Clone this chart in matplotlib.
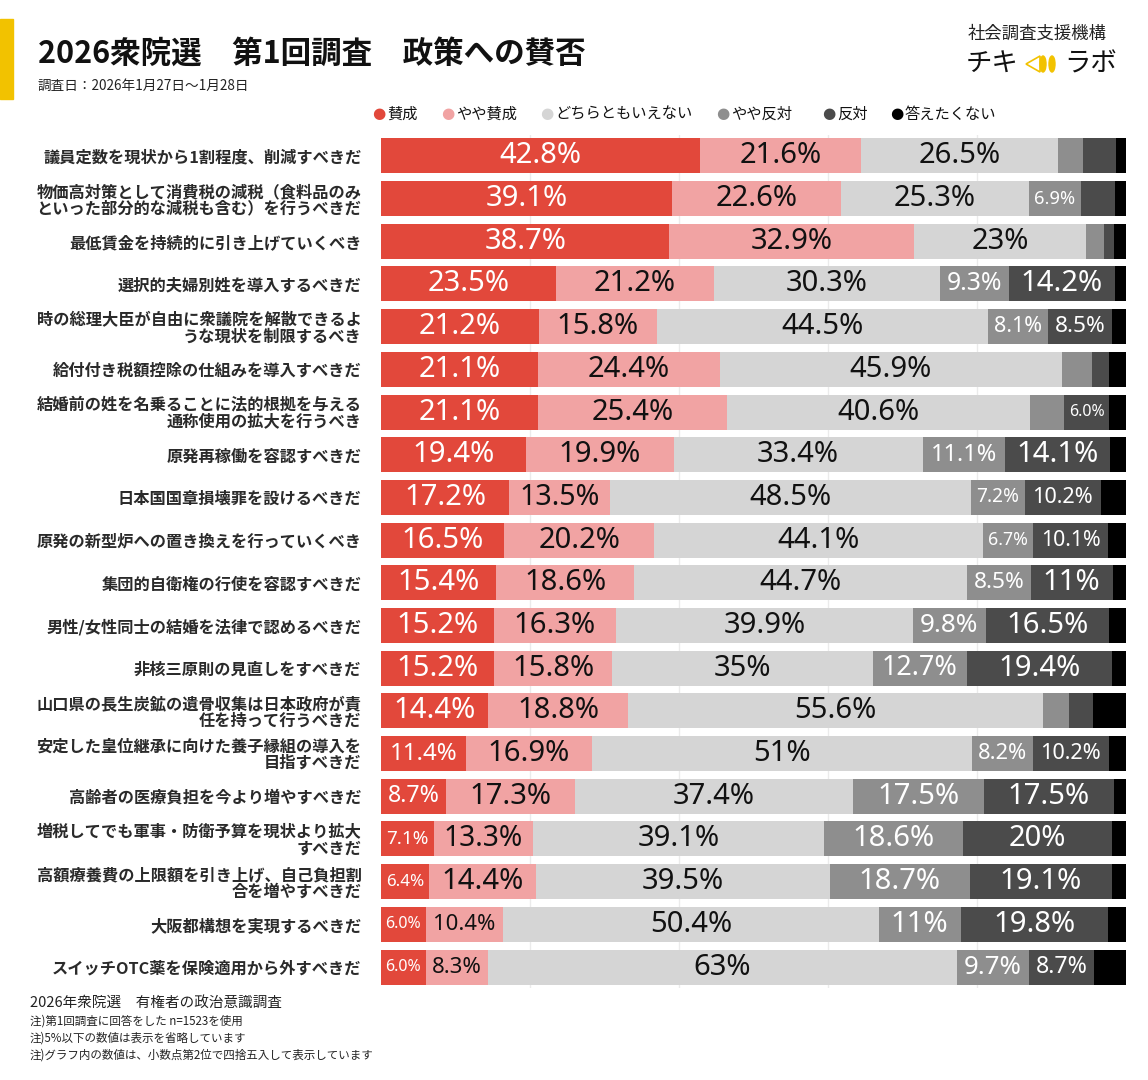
import matplotlib.pyplot as plt
from matplotlib.patches import Rectangle, Ellipse, Polygon

plt.rcParams['font.family'] = ['Noto Sans CJK JP', 'DejaVu Sans']

# 政策項目 (上から順)
categories = [
    '議員定数を現状から1割程度、削減すべきだ',
    '物価高対策として消費税の減税（食料品のみ\nといった部分的な減税も含む）を行うべきだ',
    '最低賃金を持続的に引き上げていくべき',
    '選択的夫婦別姓を導入するべきだ',
    '時の総理大臣が自由に衆議院を解散できるよ\nうな現状を制限するべき',
    '給付付き税額控除の仕組みを導入すべきだ',
    '結婚前の姓を名乗ることに法的根拠を与える\n通称使用の拡大を行うべき',
    '原発再稼働を容認すべきだ',
    '日本国国章損壊罪を設けるべきだ',
    '原発の新型炉への置き換えを行っていくべき',
    '集団的自衛権の行使を容認すべきだ',
    '男性/女性同士の結婚を法律で認めるべきだ',
    '非核三原則の見直しをすべきだ',
    '山口県の長生炭鉱の遺骨収集は日本政府が責\n任を持って行うべきだ',
    '安定した皇位継承に向けた養子縁組の導入を\n目指すべきだ',
    '高齢者の医療負担を今より増やすべきだ',
    '増税してでも軍事・防衛予算を現状より拡大\nすべきだ',
    '高額療養費の上限額を引き上げ、自己負担割\n合を増やすべきだ',
    '大阪都構想を実現するべきだ',
    'スイッチOTC薬を保険適用から外すべきだ',
]
answers = ['賛成', 'やや賛成', 'どちらともいえない', 'やや反対', '反対', '答えたくない']

agree = [42.8, 39.1, 38.7, 23.5, 21.2, 21.1, 21.1, 19.4, 17.2, 16.5,
         15.4, 15.2, 15.2, 14.4, 11.4, 8.7, 7.1, 6.4, 6.0, 6.0]
some_agree = [21.6, 22.6, 32.9, 21.2, 15.8, 24.4, 25.4, 19.9, 13.5, 20.2,
              18.6, 16.3, 15.8, 18.8, 16.9, 17.3, 13.3, 14.4, 10.4, 8.3]
neutral = [26.5, 25.3, 23.0, 30.3, 44.5, 45.9, 40.6, 33.4, 48.5, 44.1,
           44.7, 39.9, 35.0, 55.6, 51.0, 37.4, 39.1, 39.5, 50.4, 63.0]
some_disagree = [3.4, 6.9, 2.4, 9.3, 8.1, 4.0, 4.6, 11.1, 7.2, 6.7,
                 8.5, 9.8, 12.7, 3.5, 8.2, 17.5, 18.6, 18.7, 11.0, 9.7]
disagree = [4.4, 4.6, 1.4, 14.2, 8.5, 2.3, 6.0, 14.1, 10.2, 10.1,
            11.0, 16.5, 19.4, 3.3, 10.2, 17.5, 20.0, 19.1, 19.8, 8.7]
no_answer = [1.3, 1.5, 1.6, 1.5, 1.9, 2.3, 2.3, 2.1, 3.4, 2.4,
             1.8, 2.3, 1.9, 4.4, 2.3, 1.6, 1.9, 1.9, 2.4, 4.3]

series = [agree, some_agree, neutral, some_disagree, disagree, no_answer]
colors = ['#e2483b', '#f1a3a3', '#d5d5d5', '#8e8e8e', '#4b4b4b', '#000000']
text_colors = ['white', '#111111', '#111111', 'white', 'white', 'white']

fig = plt.figure(figsize=(11.48, 10.8), dpi=100)
ax = fig.add_axes([0.3319, 0.0848, 0.6489, 0.7906])

y = list(range(len(categories)))
left = [0.0] * len(categories)
for vals, c in zip(series, colors):
    ax.barh(y, vals, left=left, height=0.82, color=c, zorder=2)
    left = [l + v for l, v in zip(left, vals)]

ax.set_xlim(0, 100)
ax.set_ylim(len(categories) - 0.5, -0.5)
ax.set_xticks([20, 40, 60, 80])
ax.xaxis.grid(True, color='#ebebeb', lw=1)
ax.set_axisbelow(True)
ax.tick_params(axis='x', length=0, labelbottom=False)
ax.tick_params(axis='y', length=0, pad=14)
ax.set_yticks(y)
ax.set_yticklabels(categories, fontsize=11.7, fontweight='bold',
                   linespacing=1.0, color='#2a2a2a')
for s in ax.spines.values():
    s.set_visible(False)

# 値ラベル (5%以下は省略)
fig.canvas.draw()
renderer = fig.canvas.get_renderer()
ax_w = ax.get_window_extent(renderer).width
left = [0.0] * len(categories)
max_fs = 21
for vals, tc in zip(series, text_colors):
    for i, v in enumerate(vals):
        if v > 5:
            lab = f'{v:g}%' if v >= 10 else f'{v:.1f}%'
            t = ax.text(left[i] + v / 2, i, lab, ha='center', va='center',
                        fontsize=max_fs, color=tc, family='Noto Sans', zorder=3)
            w = t.get_window_extent(renderer).width
            seg = v / 100 * ax_w
            if w > 0.8 * seg:
                t.set_fontsize(max_fs * 0.8 * seg / w)
    left = [l + v for l, v in zip(left, vals)]

# ヘッダー
fig.patches.append(Rectangle((0, 1 - 99 / 1080), 13 / 1148, 80 / 1080,
                             transform=fig.transFigure, color='#f2c200'))
fig.text(38 / 1148, 1 - 54 / 1080, '2026衆院選　第1回調査　政策への賛否',
         fontsize=22, fontweight='bold', va='center', color='#111111')
fig.text(38 / 1148, 1 - 86 / 1080, '調査日：2026年1月27日～1月28日',
         fontsize=9.8, va='center', color='#222222')

fig.text(968 / 1148, 1 - 34 / 1080, '社会調査支援機構', fontsize=12.5,
         va='center', color='#222222')
fig.text(966 / 1148, 1 - 64 / 1080, 'チキ', fontsize=19, va='center', color='#111111')
fig.text(1064 / 1148, 1 - 64 / 1080, 'ラボ', fontsize=19, va='center', color='#111111')
fig.patches.append(Polygon([(1026 / 1148, 1 - 64 / 1080), (1040 / 1148, 1 - 56 / 1080),
                            (1040 / 1148, 1 - 72 / 1080)], closed=True, fill=False,
                           ec='#f2c200', lw=1.2, transform=fig.transFigure))
for ex in (1043, 1052):
    fig.patches.append(Ellipse((ex / 1148, 1 - 64 / 1080), 6 / 1148, 16 / 1080,
                               color='#f2c200', transform=fig.transFigure))

# 凡例
legend_x = [372, 441, 540, 716, 822, 890]
for lx, name, c in zip(legend_x, answers, colors):
    fig.text(lx / 1148, 1 - 114 / 1080, '●', fontsize=11, color=c, va='center',
             family='DejaVu Sans')
    fig.text((lx + 15) / 1148, 1 - 114 / 1080, name, fontsize=11, va='center',
             color='#111111')

# 注記
fig.text(30 / 1148, 1 - 1003 / 1080, '2026年衆院選　有権者の政治意識調査',
         fontsize=10.5, va='center', color='#222222')
notes = ['注)第1回調査に回答をした n=1523を使用',
         '注)5%以下の数値は表示を省略しています',
         '注)グラフ内の数値は、小数点第2位で四捨五入して表示しています']
for k, n in enumerate(notes):
    fig.text(30 / 1148, 1 - (1021 + 17 * k) / 1080, n, fontsize=8.3,
             va='center', color='#222222')

fig.savefig('out.png', dpi=100, facecolor='white')
